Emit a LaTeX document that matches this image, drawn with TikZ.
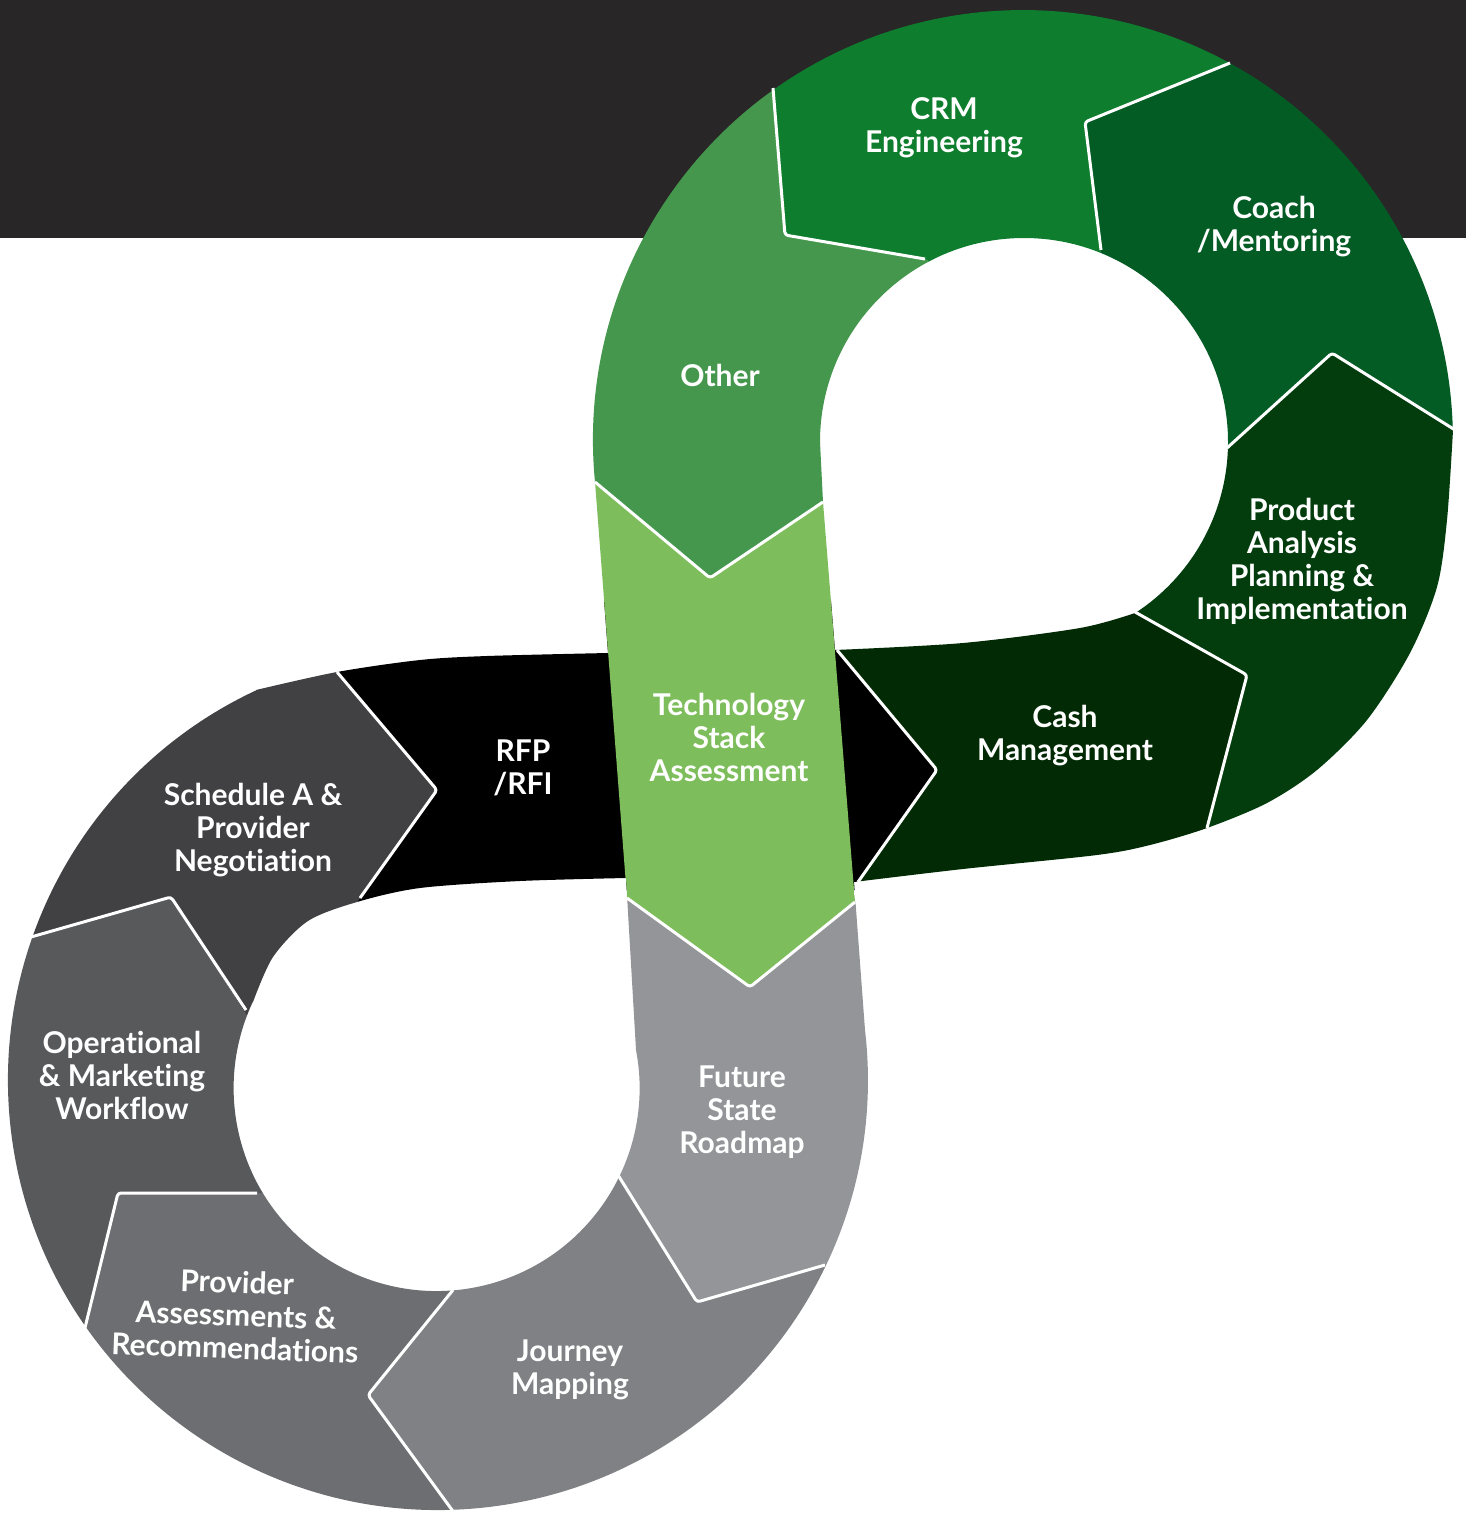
\documentclass[tikz,border=0pt]{standalone}
\usepackage{fontspec}
\setmainfont{Lato}[Ligatures=NoCommon]
\definecolor{topband}{HTML}{282627}
\definecolor{otherc}{HTML}{45974E}
\definecolor{crmc}{HTML}{0E7D2E}
\definecolor{coachc}{HTML}{045C25}
\definecolor{productc}{HTML}{033D0E}
\definecolor{cashc}{HTML}{012A05}
\definecolor{rfpc}{HTML}{000000}
\definecolor{techc}{HTML}{7DBD5B}
\definecolor{futurec}{HTML}{939598}
\definecolor{journeyc}{HTML}{808184}
\definecolor{providerc}{HTML}{6D6E71}
\definecolor{opsc}{HTML}{58595B}
\definecolor{schedc}{HTML}{414042}
\newcommand{\loopshape}{(608,653) -- (595,482) arc[start angle=174.4, end angle=358.7, radius=430]
  -- plot[smooth] coordinates {(1453,430) (1447,520) (1437,587) (1410,653) (1367,720) (1317,770) (1267,803) (1207,828) (1150,845) (1097,855) (963,869) (854,882)}
  -- (865,1030) arc[start angle=-6.68, end angle=245, radius=430]
  -- plot[smooth] coordinates {(256,690) (337,672) (420,660) (487,656) (608,653)} -- cycle
  (835,650) -- (823,502) -- (820,442) arc[start angle=180, end angle=417, radius=204]
  -- plot[smooth] coordinates {(1135,613) (1080,628) (963,643) (835,650)} -- cycle
  (626,878) -- (636,1050) arc[start angle=-10.8, end angle=205, radius=203]
  -- plot[smooth] coordinates {(253,1002) (273,957) (308,921) (357,902) (420,888) (520,881) (626,878)} -- cycle}

\begin{document}
\begin{tikzpicture}[x=0.5pt, y=-0.5pt,
    sep/.style={draw=white, line width=1.5pt, line join=round, rounded corners=1.5pt},
    lbl/.style={text=white, align=center, font=\fontsize{15}{16.5}\selectfont\bfseries}]
  \useasboundingbox (0,0) rectangle (1466,1514);
  \clip (0,0) rectangle (1466,1514);
  \fill[topband] (0,0) rectangle (1466,238);

  \begin{scope}
    \clip (500,500) -- (595,482) -- (710,578) -- (823,502) -- (900,420) -- (1000,300) -- (925,259) -- (785,235) -- (773,88) -- (771,0) -- (500,0) -- cycle;
    \fill[otherc, even odd rule] \loopshape;
  \end{scope}
  \begin{scope}
    \clip (771,0) -- (773,88) -- (785,235) -- (925,259) -- (1000,300) -- (1103,280) -- (1101,250) -- (1085,122) -- (1230,63) -- (1300,0) -- cycle;
    \fill[crmc, even odd rule] \loopshape;
  \end{scope}
  \begin{scope}
    \clip (1300,0) -- (1230,63) -- (1085,122) -- (1101,250) -- (1103,280) -- (1100,400) -- (1200,472) -- (1227,448) -- (1332,353) -- (1455,430) -- (1500,455) -- (1500,0) -- cycle;
    \fill[coachc, even odd rule] \loopshape;
  \end{scope}
  \begin{scope}
    \clip (1200,472) -- (1227,448) -- (1332,353) -- (1455,430) -- (1500,455) -- (1500,900) -- (1200,857) -- (1207,830) -- (1247,675) -- (1135,612) -- (1112,599) -- cycle;
    \fill[productc, even odd rule] \loopshape;
  \end{scope}
  \begin{scope}
    \clip (837,650) -- (937,770) -- (858,882) -- (870,910) -- (1200,857) -- (1207,830) -- (1247,675) -- (1135,612) -- (1112,599) -- (850,600) -- cycle;
    \fill[cashc, even odd rule] \loopshape;
  \end{scope}
  \begin{scope}
    \clip (320,652) -- (337,672) -- (437,790) -- (360,898) -- (350,912) -- (627,890) -- (856,890) -- (858,882) -- (937,770) -- (837,650) -- (850,600) -- (600,600) -- (320,600) -- cycle;
    \fill[rfpc, even odd rule] \loopshape;
  \end{scope}
  \begin{scope}
    \clip (595,482) -- (710,578) -- (823,502) -- (855,902) -- (750,987) -- (627,898) -- cycle;
    \fill[techc, even odd rule] \loopshape;
  \end{scope}
  \begin{scope}
    \clip (627,898) -- (750,987) -- (855,902) -- (900,900) -- (900,1243) -- (825,1265) -- (697,1302) -- (618,1175) -- (600,1146) -- (600,900) -- cycle;
    \fill[futurec, even odd rule] \loopshape;
  \end{scope}
  \begin{scope}
    \clip (600,1146) -- (618,1175) -- (697,1302) -- (825,1265) -- (900,1243) -- (900,1600) -- (480,1600) -- (480,1548) -- (455,1514) -- (368,1395) -- (453,1290) -- (470,1269) -- cycle;
    \fill[journeyc, even odd rule] \loopshape;
  \end{scope}
  \begin{scope}
    \clip (470,1269) -- (453,1290) -- (368,1395) -- (455,1514) -- (480,1548) -- (480,1600) -- (40,1600) -- (75,1370) -- (82,1340) -- (118,1193) -- (257,1193) -- (290,1193) -- cycle;
    \fill[providerc, even odd rule] \loopshape;
  \end{scope}
  \begin{scope}
    \clip (-20,951) -- (31,937) -- (171,897) -- (243,1010) -- (255,1029) -- (290,1193) -- (257,1193) -- (118,1193) -- (82,1340) -- (75,1370) -- (-20,1390) -- cycle;
    \fill[opsc, even odd rule] \loopshape;
  \end{scope}
  \begin{scope}
    \clip (320,600) -- (320,652) -- (337,672) -- (437,790) -- (360,898) -- (350,912) -- (255,1029) -- (243,1010) -- (171,897) -- (31,937) -- (-20,951) -- (-20,600) -- cycle;
    \fill[schedc, even odd rule] \loopshape;
  \end{scope}

  \draw[sep] (595,482) -- (710,578) -- (823,502);
  \draw[sep] (773,88) -- (785,235) -- (925,259);
  \draw[sep] (1230,63) -- (1085,122) -- (1101,250);
  \draw[sep] (1227,448) -- (1332,353) -- (1455,430);
  \draw[sep] (1135,612) -- (1247,675) -- (1207,828);
  \draw[sep] (837,650) -- (937,770) -- (858,882);
  \draw[sep] (337,672) -- (437,790) -- (360,898);
  \draw[sep] (627,898) -- (750,987) -- (855,902);
  \draw[sep] (618,1175) -- (697,1302) -- (825,1265);
  \draw[sep] (453,1290) -- (368,1395) -- (455,1514);
  \draw[sep] (257,1193) -- (118,1193) -- (82,1340);
  \draw[sep] (246,1010) -- (171,897) -- (31,937);

  \node[lbl] (n_other) at (720,375) {Other};
  \node[lbl] (n_crm) at (944,128) {CRM\\Engineering};
  \node[lbl] (n_coach) at (1274,227) {Coach\\/Mentoring};
  \node[lbl] (n_product) at (1302,561) {Product\\Analysis\\Planning \&\\Implementation};
  \node[lbl] (n_cash) at (1065,736) {Cash\\Management};
  \node[lbl] (n_rfp) at (523,768) {RFP\\/RFI};
  \node[lbl] (n_tech) at (729,737) {Technology\\Stack\\Assessment};
  \node[lbl] (n_future) at (742,1112) {Future\\State\\Roadmap};
  \node[lbl] (n_journey) at (570,1370) {Journey\\Mapping};
  \node[lbl, rotate=-2] (n_provider) at (236,1315) {Provider\\Assessments \&\\Recommendations};
  \node[lbl] (n_ops) at (122,1075) {Operational\\\& Marketing\\Workflow};
  \node[lbl] (n_sched) at (253,830) {Schedule A \&\\Provider\\Negotiation};
\end{tikzpicture}
\end{document}
